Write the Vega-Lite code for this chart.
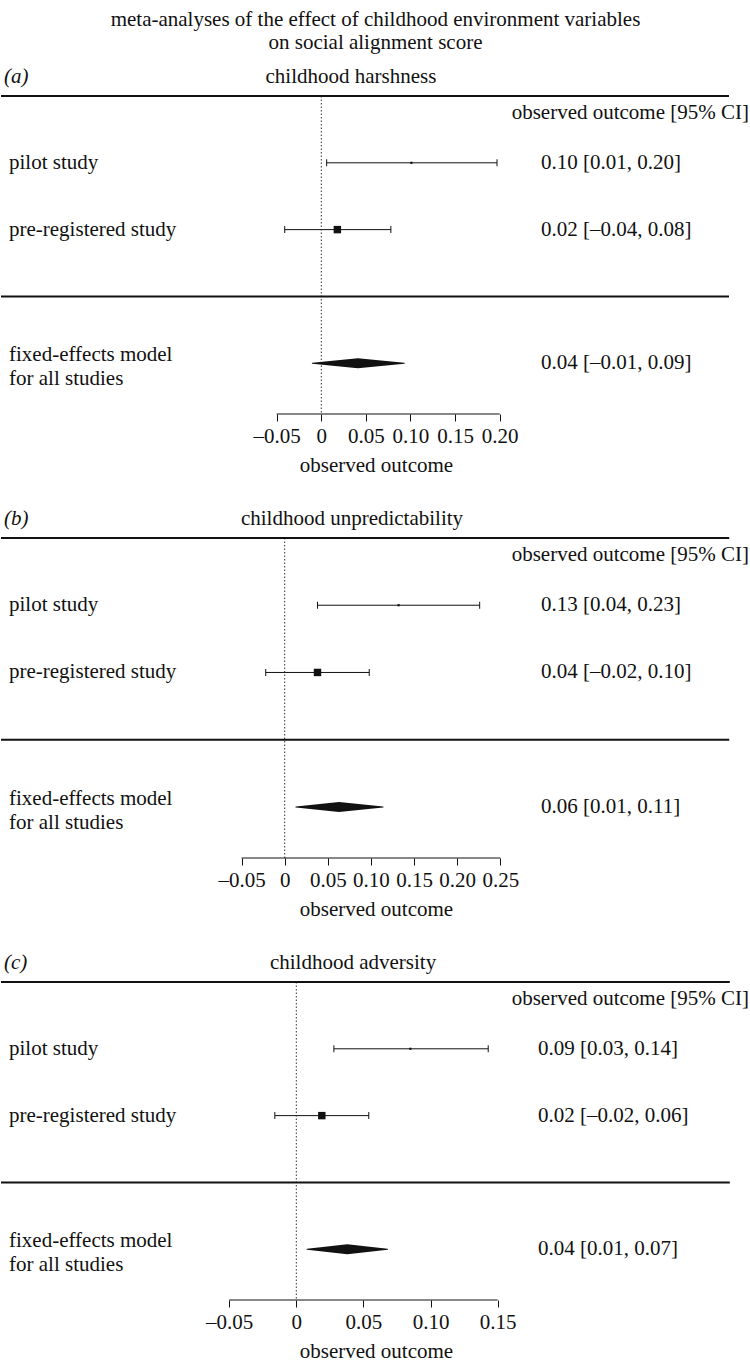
{
  "$schema": "https://vega.github.io/schema/vega-lite/v6.json",
  "padding": {"top": 8, "left": 0, "right": 0, "bottom": 0},
  "spacing": 32,
  "title": {"text": ["meta-analyses of the effect of childhood environment variables", "on social alignment score"], "lineHeight": 23, "anchor": "middle", "offset": 13},
  "config": {
    "view": {"stroke": null},
    "font": "Liberation Serif",
    "title": {"font": "Liberation Serif", "fontSize": 21, "fontWeight": "normal", "color": "#111"},
    "axis": {"labelFont": "Liberation Serif", "labelFontSize": 21, "labelColor": "#111", "titleFont": "Liberation Serif", "titleFontSize": 21, "titleFontWeight": "normal", "titleColor": "#111", "tickColor": "#111", "tickSize": 7, "tickWidth": 1, "domain": false, "grid": false, "labelPadding": 4, "titlePadding": 8, "labelOverlap": false, "labelFlush": false},
    "text": {"font": "Liberation Serif", "fontSize": 21, "color": "#111", "baseline": "middle"}
  },
  "datasets": {
    "a": [
      {"study": "pilot study", "row": 1, "est": 0.101, "lo": 0.006, "hi": 0.197, "weight": 8, "ci": "0.10 [0.01, 0.20]"},
      {"study": "pre-registered study", "row": 2, "est": 0.018, "lo": -0.041, "hi": 0.078, "weight": 92, "ci": "0.02 [–0.04, 0.08]"},
      {"study": "fixed-effects model\nfor all studies", "row": 4, "est": 0.041, "lo": -0.010, "hi": 0.093, "weight": null, "ci": "0.04 [–0.01, 0.09]"}
    ],
    "a_d": [{"row": 4, "x": -0.010, "w": 0}, {"row": 4, "x": 0.041, "w": 1}, {"row": 4, "x": 0.093, "w": 0}],
    "b": [
      {"study": "pilot study", "row": 1, "est": 0.132, "lo": 0.038, "hi": 0.226, "weight": 8, "ci": "0.13 [0.04, 0.23]"},
      {"study": "pre-registered study", "row": 2, "est": 0.038, "lo": -0.022, "hi": 0.098, "weight": 92, "ci": "0.04 [–0.02, 0.10]"},
      {"study": "fixed-effects model\nfor all studies", "row": 4, "est": 0.063, "lo": 0.013, "hi": 0.114, "weight": null, "ci": "0.06 [0.01, 0.11]"}
    ],
    "b_d": [{"row": 4, "x": 0.013, "w": 0}, {"row": 4, "x": 0.063, "w": 1}, {"row": 4, "x": 0.114, "w": 0}],
    "c": [
      {"study": "pilot study", "row": 1, "est": 0.085, "lo": 0.028, "hi": 0.143, "weight": 8, "ci": "0.09 [0.03, 0.14]"},
      {"study": "pre-registered study", "row": 2, "est": 0.019, "lo": -0.016, "hi": 0.054, "weight": 92, "ci": "0.02 [–0.02, 0.06]"},
      {"study": "fixed-effects model\nfor all studies", "row": 4, "est": 0.038, "lo": 0.008, "hi": 0.068, "weight": null, "ci": "0.04 [0.01, 0.07]"}
    ],
    "c_d": [{"row": 4, "x": 0.008, "w": 0}, {"row": 4, "x": 0.038, "w": 1}, {"row": 4, "x": 0.068, "w": 0}]
  },
  "vconcat": [
    {
      "width": 750, "height": 318,
      "data": {"name": "a"},
      "resolve": {"scale": {"size": "independent"}},
      "layer": [
        {"data": {"values": [{}]}, "mark": {"type": "rule", "strokeDash": [1.5, 2], "color": "#333", "strokeWidth": 1},
         "encoding": {"x": {"datum": 0, "type": "quantitative", "scale": {"domain": [-0.35908, 0.48173], "nice": false, "zero": false}}}},
        {"data": {"values": [{}]}, "mark": {"type": "rule", "strokeWidth": 2, "color": "#111"},
         "encoding": {"x": {"datum": -0.35908, "type": "quantitative"}, "x2": {"datum": 0.45706},
           "y": {"datum": 0, "type": "quantitative", "scale": {"domain": [0, 4.76], "reverse": true, "nice": false, "zero": false}, "axis": null}}},
        {"data": {"values": [{}]}, "mark": {"type": "rule", "strokeWidth": 2, "color": "#111"},
         "encoding": {"x": {"datum": -0.35908, "type": "quantitative"}, "x2": {"datum": 0.45706}, "y": {"datum": 3, "type": "quantitative", "axis": null}}},
        {"data": {"values": [{}]}, "mark": {"type": "rule", "strokeWidth": 1, "color": "#111"},
         "encoding": {"x": {"datum": -0.05, "type": "quantitative"}, "x2": {"datum": 0.2}, "y": {"datum": 4.76, "type": "quantitative", "axis": null}}},
        {"transform": [{"filter": "isValid(datum.weight)"}], "mark": {"type": "rule", "color": "#111", "strokeWidth": 1},
         "encoding": {"x": {"field": "lo", "type": "quantitative",
           "axis": {"values": [-0.05, 0, 0.05, 0.1, 0.15, 0.2], "title": "observed outcome", "labelExpr": "datum.value == 0 ? '0' : replace(replace(format(datum.value, '.2f'), '−', '–'), '-', '–')"}},
           "x2": {"field": "hi"}, "y": {"field": "row", "type": "quantitative", "axis": null}}},
        {"transform": [{"filter": "isValid(datum.weight)"}], "mark": {"type": "tick", "orient": "vertical", "size": 7, "thickness": 1, "color": "#111", "opacity": 1},
         "encoding": {"x": {"field": "lo", "type": "quantitative"}, "y": {"field": "row", "type": "quantitative", "axis": null}}},
        {"transform": [{"filter": "isValid(datum.weight)"}], "mark": {"type": "tick", "orient": "vertical", "size": 7, "thickness": 1, "color": "#111", "opacity": 1},
         "encoding": {"x": {"field": "hi", "type": "quantitative"}, "y": {"field": "row", "type": "quantitative", "axis": null}}},
        {"transform": [{"filter": "isValid(datum.weight)"}], "mark": {"type": "point", "shape": "square", "filled": true, "color": "#111", "opacity": 1},
         "encoding": {"x": {"field": "est", "type": "quantitative"}, "y": {"field": "row", "type": "quantitative", "axis": null},
           "size": {"field": "weight", "type": "quantitative", "scale": {"domain": [0, 100], "range": [0, 60]}, "legend": null}}},
        {"data": {"name": "a_d"}, "mark": {"type": "trail", "color": "#111"},
         "encoding": {"x": {"field": "x", "type": "quantitative"}, "y": {"field": "row", "type": "quantitative", "axis": null},
           "size": {"field": "w", "type": "quantitative", "scale": {"domain": [0, 1], "range": [0, 10]}, "legend": null}}},
        {"transform": [{"filter": "isValid(datum.weight)"}], "mark": {"type": "text", "align": "left", "dx": 8},
         "encoding": {"x": {"datum": -0.35908, "type": "quantitative"}, "y": {"field": "row", "type": "quantitative", "axis": null}, "text": {"field": "study"}}},
        {"transform": [{"filter": "!isValid(datum.weight)"}], "mark": {"type": "text", "align": "left", "dx": 8, "dy": -8, "lineBreak": "\n", "lineHeight": 24},
         "encoding": {"x": {"datum": -0.35908, "type": "quantitative"}, "y": {"field": "row", "type": "quantitative", "axis": null}, "text": {"field": "study"}}},
        {"mark": {"type": "text", "align": "left"},
         "encoding": {"x": {"datum": 0.2463, "type": "quantitative"}, "y": {"field": "row", "type": "quantitative", "axis": null}, "text": {"field": "ci"}}},
        {"data": {"values": [{"label": "observed outcome [95% CI]"}]}, "mark": {"type": "text", "align": "right", "dx": -2},
         "encoding": {"x": {"datum": 0.48173, "type": "quantitative"}, "y": {"datum": 0.25, "type": "quantitative", "axis": null}, "text": {"field": "label"}}},
        {"data": {"values": [{"label": "(a)"}]}, "mark": {"type": "text", "align": "left", "dx": 3, "fontStyle": "italic"},
         "encoding": {"x": {"datum": -0.35908, "type": "quantitative"}, "y": {"datum": -0.29, "type": "quantitative", "axis": null}, "text": {"field": "label"}}},
        {"data": {"values": [{"label": "childhood harshness"}]}, "mark": {"type": "text", "align": "center"},
         "encoding": {"x": {"datum": 0.0333, "type": "quantitative"}, "y": {"datum": -0.29, "type": "quantitative", "axis": null}, "text": {"field": "label"}}}
      ]
    },
    {
      "width": 750, "height": 320,
      "data": {"name": "b"},
      "resolve": {"scale": {"size": "independent"}},
      "layer": [
        {"data": {"values": [{}]}, "mark": {"type": "rule", "strokeDash": [1.5, 2], "color": "#333", "strokeWidth": 1},
         "encoding": {"x": {"datum": 0, "type": "quantitative", "scale": {"domain": [-0.32885, 0.54052], "nice": false, "zero": false}}}},
        {"data": {"values": [{}]}, "mark": {"type": "rule", "strokeWidth": 2, "color": "#111"},
         "encoding": {"x": {"datum": -0.32885, "type": "quantitative"}, "x2": {"datum": 0.5153},
           "y": {"datum": 0, "type": "quantitative", "scale": {"domain": [0, 4.76], "reverse": true, "nice": false, "zero": false}, "axis": null}}},
        {"data": {"values": [{}]}, "mark": {"type": "rule", "strokeWidth": 2, "color": "#111"},
         "encoding": {"x": {"datum": -0.32885, "type": "quantitative"}, "x2": {"datum": 0.5153}, "y": {"datum": 3, "type": "quantitative", "axis": null}}},
        {"data": {"values": [{}]}, "mark": {"type": "rule", "strokeWidth": 1, "color": "#111"},
         "encoding": {"x": {"datum": -0.05, "type": "quantitative"}, "x2": {"datum": 0.25}, "y": {"datum": 4.76, "type": "quantitative", "axis": null}}},
        {"transform": [{"filter": "isValid(datum.weight)"}], "mark": {"type": "rule", "color": "#111", "strokeWidth": 1},
         "encoding": {"x": {"field": "lo", "type": "quantitative",
           "axis": {"values": [-0.05, 0, 0.05, 0.1, 0.15, 0.2, 0.25], "title": "observed outcome", "labelExpr": "datum.value == 0 ? '0' : replace(replace(format(datum.value, '.2f'), '−', '–'), '-', '–')"}},
           "x2": {"field": "hi"}, "y": {"field": "row", "type": "quantitative", "axis": null}}},
        {"transform": [{"filter": "isValid(datum.weight)"}], "mark": {"type": "tick", "orient": "vertical", "size": 7, "thickness": 1, "color": "#111", "opacity": 1},
         "encoding": {"x": {"field": "lo", "type": "quantitative"}, "y": {"field": "row", "type": "quantitative", "axis": null}}},
        {"transform": [{"filter": "isValid(datum.weight)"}], "mark": {"type": "tick", "orient": "vertical", "size": 7, "thickness": 1, "color": "#111", "opacity": 1},
         "encoding": {"x": {"field": "hi", "type": "quantitative"}, "y": {"field": "row", "type": "quantitative", "axis": null}}},
        {"transform": [{"filter": "isValid(datum.weight)"}], "mark": {"type": "point", "shape": "square", "filled": true, "color": "#111", "opacity": 1},
         "encoding": {"x": {"field": "est", "type": "quantitative"}, "y": {"field": "row", "type": "quantitative", "axis": null},
           "size": {"field": "weight", "type": "quantitative", "scale": {"domain": [0, 100], "range": [0, 60]}, "legend": null}}},
        {"data": {"name": "b_d"}, "mark": {"type": "trail", "color": "#111"},
         "encoding": {"x": {"field": "x", "type": "quantitative"}, "y": {"field": "row", "type": "quantitative", "axis": null},
           "size": {"field": "w", "type": "quantitative", "scale": {"domain": [0, 1], "range": [0, 10]}, "legend": null}}},
        {"transform": [{"filter": "isValid(datum.weight)"}], "mark": {"type": "text", "align": "left", "dx": 8},
         "encoding": {"x": {"datum": -0.32885, "type": "quantitative"}, "y": {"field": "row", "type": "quantitative", "axis": null}, "text": {"field": "study"}}},
        {"transform": [{"filter": "!isValid(datum.weight)"}], "mark": {"type": "text", "align": "left", "dx": 8, "dy": -8, "lineBreak": "\n", "lineHeight": 24},
         "encoding": {"x": {"datum": -0.32885, "type": "quantitative"}, "y": {"field": "row", "type": "quantitative", "axis": null}, "text": {"field": "study"}}},
        {"mark": {"type": "text", "align": "left"},
         "encoding": {"x": {"datum": 0.2971, "type": "quantitative"}, "y": {"field": "row", "type": "quantitative", "axis": null}, "text": {"field": "ci"}}},
        {"data": {"values": [{"label": "observed outcome [95% CI]"}]}, "mark": {"type": "text", "align": "right", "dx": -2},
         "encoding": {"x": {"datum": 0.54052, "type": "quantitative"}, "y": {"datum": 0.25, "type": "quantitative", "axis": null}, "text": {"field": "label"}}},
        {"data": {"values": [{"label": "(b)"}]}, "mark": {"type": "text", "align": "left", "dx": 3, "fontStyle": "italic"},
         "encoding": {"x": {"datum": -0.32885, "type": "quantitative"}, "y": {"datum": -0.29, "type": "quantitative", "axis": null}, "text": {"field": "label"}}},
        {"data": {"values": [{"label": "childhood unpredictability"}]}, "mark": {"type": "text", "align": "center"},
         "encoding": {"x": {"datum": 0.078, "type": "quantitative"}, "y": {"datum": -0.29, "type": "quantitative", "axis": null}, "text": {"field": "label"}}}
      ]
    },
    {
      "width": 750, "height": 318,
      "data": {"name": "c"},
      "resolve": {"scale": {"size": "independent"}},
      "layer": [
        {"data": {"values": [{}]}, "mark": {"type": "rule", "strokeDash": [1.5, 2], "color": "#333", "strokeWidth": 1},
         "encoding": {"x": {"datum": 0, "type": "quantitative", "scale": {"domain": [-0.22005, 0.33882], "nice": false, "zero": false}}}},
        {"data": {"values": [{}]}, "mark": {"type": "rule", "strokeWidth": 2, "color": "#111"},
         "encoding": {"x": {"datum": -0.22005, "type": "quantitative"}, "x2": {"datum": 0.32303},
           "y": {"datum": 0, "type": "quantitative", "scale": {"domain": [0, 4.76], "reverse": true, "nice": false, "zero": false}, "axis": null}}},
        {"data": {"values": [{}]}, "mark": {"type": "rule", "strokeWidth": 2, "color": "#111"},
         "encoding": {"x": {"datum": -0.22005, "type": "quantitative"}, "x2": {"datum": 0.32303}, "y": {"datum": 3, "type": "quantitative", "axis": null}}},
        {"data": {"values": [{}]}, "mark": {"type": "rule", "strokeWidth": 1, "color": "#111"},
         "encoding": {"x": {"datum": -0.05, "type": "quantitative"}, "x2": {"datum": 0.15}, "y": {"datum": 4.76, "type": "quantitative", "axis": null}}},
        {"transform": [{"filter": "isValid(datum.weight)"}], "mark": {"type": "rule", "color": "#111", "strokeWidth": 1},
         "encoding": {"x": {"field": "lo", "type": "quantitative",
           "axis": {"values": [-0.05, 0, 0.05, 0.1, 0.15], "title": "observed outcome", "labelExpr": "datum.value == 0 ? '0' : replace(replace(format(datum.value, '.2f'), '−', '–'), '-', '–')"}},
           "x2": {"field": "hi"}, "y": {"field": "row", "type": "quantitative", "axis": null}}},
        {"transform": [{"filter": "isValid(datum.weight)"}], "mark": {"type": "tick", "orient": "vertical", "size": 7, "thickness": 1, "color": "#111", "opacity": 1},
         "encoding": {"x": {"field": "lo", "type": "quantitative"}, "y": {"field": "row", "type": "quantitative", "axis": null}}},
        {"transform": [{"filter": "isValid(datum.weight)"}], "mark": {"type": "tick", "orient": "vertical", "size": 7, "thickness": 1, "color": "#111", "opacity": 1},
         "encoding": {"x": {"field": "hi", "type": "quantitative"}, "y": {"field": "row", "type": "quantitative", "axis": null}}},
        {"transform": [{"filter": "isValid(datum.weight)"}], "mark": {"type": "point", "shape": "square", "filled": true, "color": "#111", "opacity": 1},
         "encoding": {"x": {"field": "est", "type": "quantitative"}, "y": {"field": "row", "type": "quantitative", "axis": null},
           "size": {"field": "weight", "type": "quantitative", "scale": {"domain": [0, 100], "range": [0, 60]}, "legend": null}}},
        {"data": {"name": "c_d"}, "mark": {"type": "trail", "color": "#111"},
         "encoding": {"x": {"field": "x", "type": "quantitative"}, "y": {"field": "row", "type": "quantitative", "axis": null},
           "size": {"field": "w", "type": "quantitative", "scale": {"domain": [0, 1], "range": [0, 10]}, "legend": null}}},
        {"transform": [{"filter": "isValid(datum.weight)"}], "mark": {"type": "text", "align": "left", "dx": 8},
         "encoding": {"x": {"datum": -0.22005, "type": "quantitative"}, "y": {"field": "row", "type": "quantitative", "axis": null}, "text": {"field": "study"}}},
        {"transform": [{"filter": "!isValid(datum.weight)"}], "mark": {"type": "text", "align": "left", "dx": 8, "dy": -8, "lineBreak": "\n", "lineHeight": 24},
         "encoding": {"x": {"datum": -0.22005, "type": "quantitative"}, "y": {"field": "row", "type": "quantitative", "axis": null}, "text": {"field": "study"}}},
        {"mark": {"type": "text", "align": "left"},
         "encoding": {"x": {"datum": 0.1801, "type": "quantitative"}, "y": {"field": "row", "type": "quantitative", "axis": null}, "text": {"field": "ci"}}},
        {"data": {"values": [{"label": "observed outcome [95% CI]"}]}, "mark": {"type": "text", "align": "right", "dx": -2},
         "encoding": {"x": {"datum": 0.33882, "type": "quantitative"}, "y": {"datum": 0.25, "type": "quantitative", "axis": null}, "text": {"field": "label"}}},
        {"data": {"values": [{"label": "(c)"}]}, "mark": {"type": "text", "align": "left", "dx": 3, "fontStyle": "italic"},
         "encoding": {"x": {"datum": -0.22005, "type": "quantitative"}, "y": {"datum": -0.29, "type": "quantitative", "axis": null}, "text": {"field": "label"}}},
        {"data": {"values": [{"label": "childhood adversity"}]}, "mark": {"type": "text", "align": "center"},
         "encoding": {"x": {"datum": 0.0423, "type": "quantitative"}, "y": {"datum": -0.29, "type": "quantitative", "axis": null}, "text": {"field": "label"}}}
      ]
    }
  ]
}
